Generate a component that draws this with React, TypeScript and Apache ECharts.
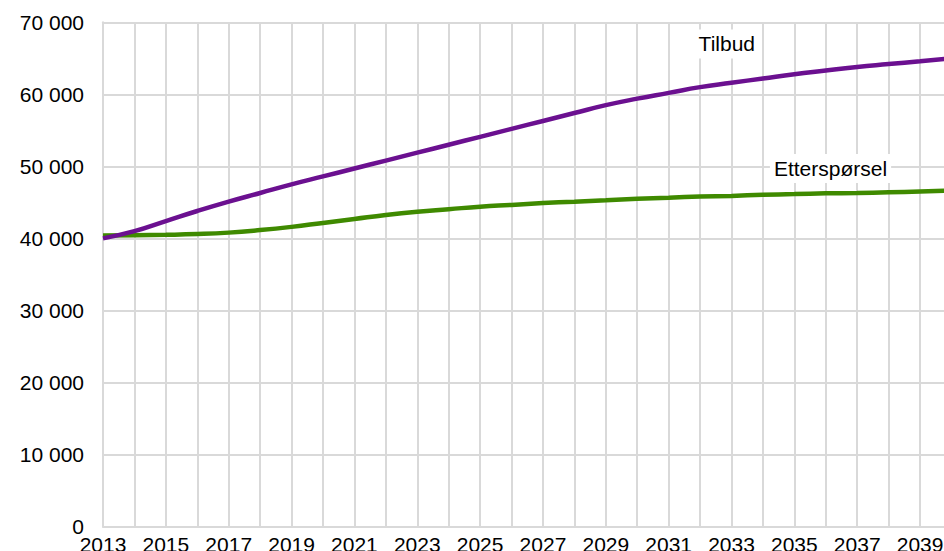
import React, { useEffect, useRef } from "react";
import * as echarts from "echarts";

const years: string[] = [
  "2013","2014","2015","2016","2017","2018","2019","2020","2021","2022",
  "2023","2024","2025","2026","2027","2028","2029","2030","2031","2032",
  "2033","2034","2035","2036","2037","2038","2039","2040",
];

const tilbud: number[] = [
  40000, 41000, 42400, 43800, 45100, 46300, 47500, 48600, 49700, 50800,
  51900, 53000, 54100, 55200, 56300, 57400, 58500, 59400, 60200, 61000,
  61600, 62200, 62800, 63300, 63800, 64200, 64600, 65000,
];

const etterspørsel: number[] = [
  40400, 40450, 40500, 40600, 40800, 41150, 41600, 42150, 42700, 43250,
  43700, 44050, 44400, 44650, 44900, 45100, 45300, 45500, 45650, 45800,
  45900, 46050, 46150, 46250, 46300, 46400, 46500, 46650,
];

const seriesNames = ["Tilbud", "Etterspørsel"];
const yTicks = { min: 0, max: 70000, interval: 10000 };
// label anchor positions in data coordinates [category index, value]
const labelAnchors: [number, number][] = [
  [19.85, 67000],
  [23.15, 49700],
];

const FONT = "'Liberation Sans', Arial, sans-serif";
const GRID = "#d9d9d9";
const COLORS = ["#6b1090", "#3f8a00"];

function fmt(v: number): string {
  return String(v).replace(/\B(?=(\d{3})+(?!\d))/g, " ");
}

export default function App() {
  const ref = useRef<HTMLDivElement>(null);
  useEffect(() => {
    if (!ref.current) return;
    const chart = echarts.init(ref.current, undefined, { renderer: "svg" });
    chart.setOption({
      animation: false,
      backgroundColor: "#ffffff",
      grid: {
        left: 103,
        right: -7.5,
        top: 22.3,
        bottom: 24.5,
        containLabel: false,
        outerBoundsMode: "none",
      },
      xAxis: {
        type: "category",
        data: years,
        boundaryGap: false,
        axisTick: { show: false },
        axisLine: { show: true, lineStyle: { color: GRID, width: 2 } },
        splitLine: { show: true, interval: 0, lineStyle: { color: GRID, width: 2 } },
        axisLabel: {
          interval: 1,
          fontSize: 21,
          color: "#000",
          fontFamily: FONT,
          margin: 7,
        },
      },
      yAxis: {
        type: "value",
        min: yTicks.min,
        max: yTicks.max,
        interval: yTicks.interval,
        axisTick: { show: false },
        axisLine: { show: true, lineStyle: { color: GRID, width: 2 } },
        splitLine: { show: true, lineStyle: { color: GRID, width: 2 } },
        axisLabel: {
          fontSize: 21,
          color: "#000",
          fontFamily: FONT,
          margin: 19,
          formatter: (v: number) => fmt(v),
        },
      },
      series: [
        {
          name: seriesNames[0],
          type: "line",
          data: tilbud,
          smooth: true,
          showSymbol: false,
          lineStyle: { color: COLORS[0], width: 4.5 },
          itemStyle: { color: COLORS[0] },
          z: 3,
        },
        {
          name: seriesNames[1],
          type: "line",
          data: etterspørsel,
          smooth: true,
          showSymbol: false,
          lineStyle: { color: COLORS[1], width: 4.5 },
          itemStyle: { color: COLORS[1] },
          z: 2,
        },
      ],
    });
    const graphics = labelAnchors.map((a, i) => {
      const i0 = Math.floor(a[0]);
      const f = a[0] - i0;
      const p0 = chart.convertToPixel({ gridIndex: 0 }, [i0, a[1]]) as number[];
      const p1 = chart.convertToPixel({ gridIndex: 0 }, [i0 + 1, a[1]]) as number[];
      return {
        type: "text",
        x: p0[0] + (p1[0] - p0[0]) * f,
        y: p0[1],
        z: 10,
        style: {
          text: seriesNames[i],
          fontSize: 21,
          fontFamily: FONT,
          fill: "#000",
          align: "center",
          verticalAlign: "middle",
          backgroundColor: "#ffffff",
          padding: [4, 4, 4, 4],
        },
      };
    });
    chart.setOption({ graphic: graphics });
    return () => chart.dispose();
  }, []);
  return (
    <div
      ref={ref}
      style={{ position: "fixed", left: 0, top: 0, width: 944, height: 551 }}
    />
  );
}
